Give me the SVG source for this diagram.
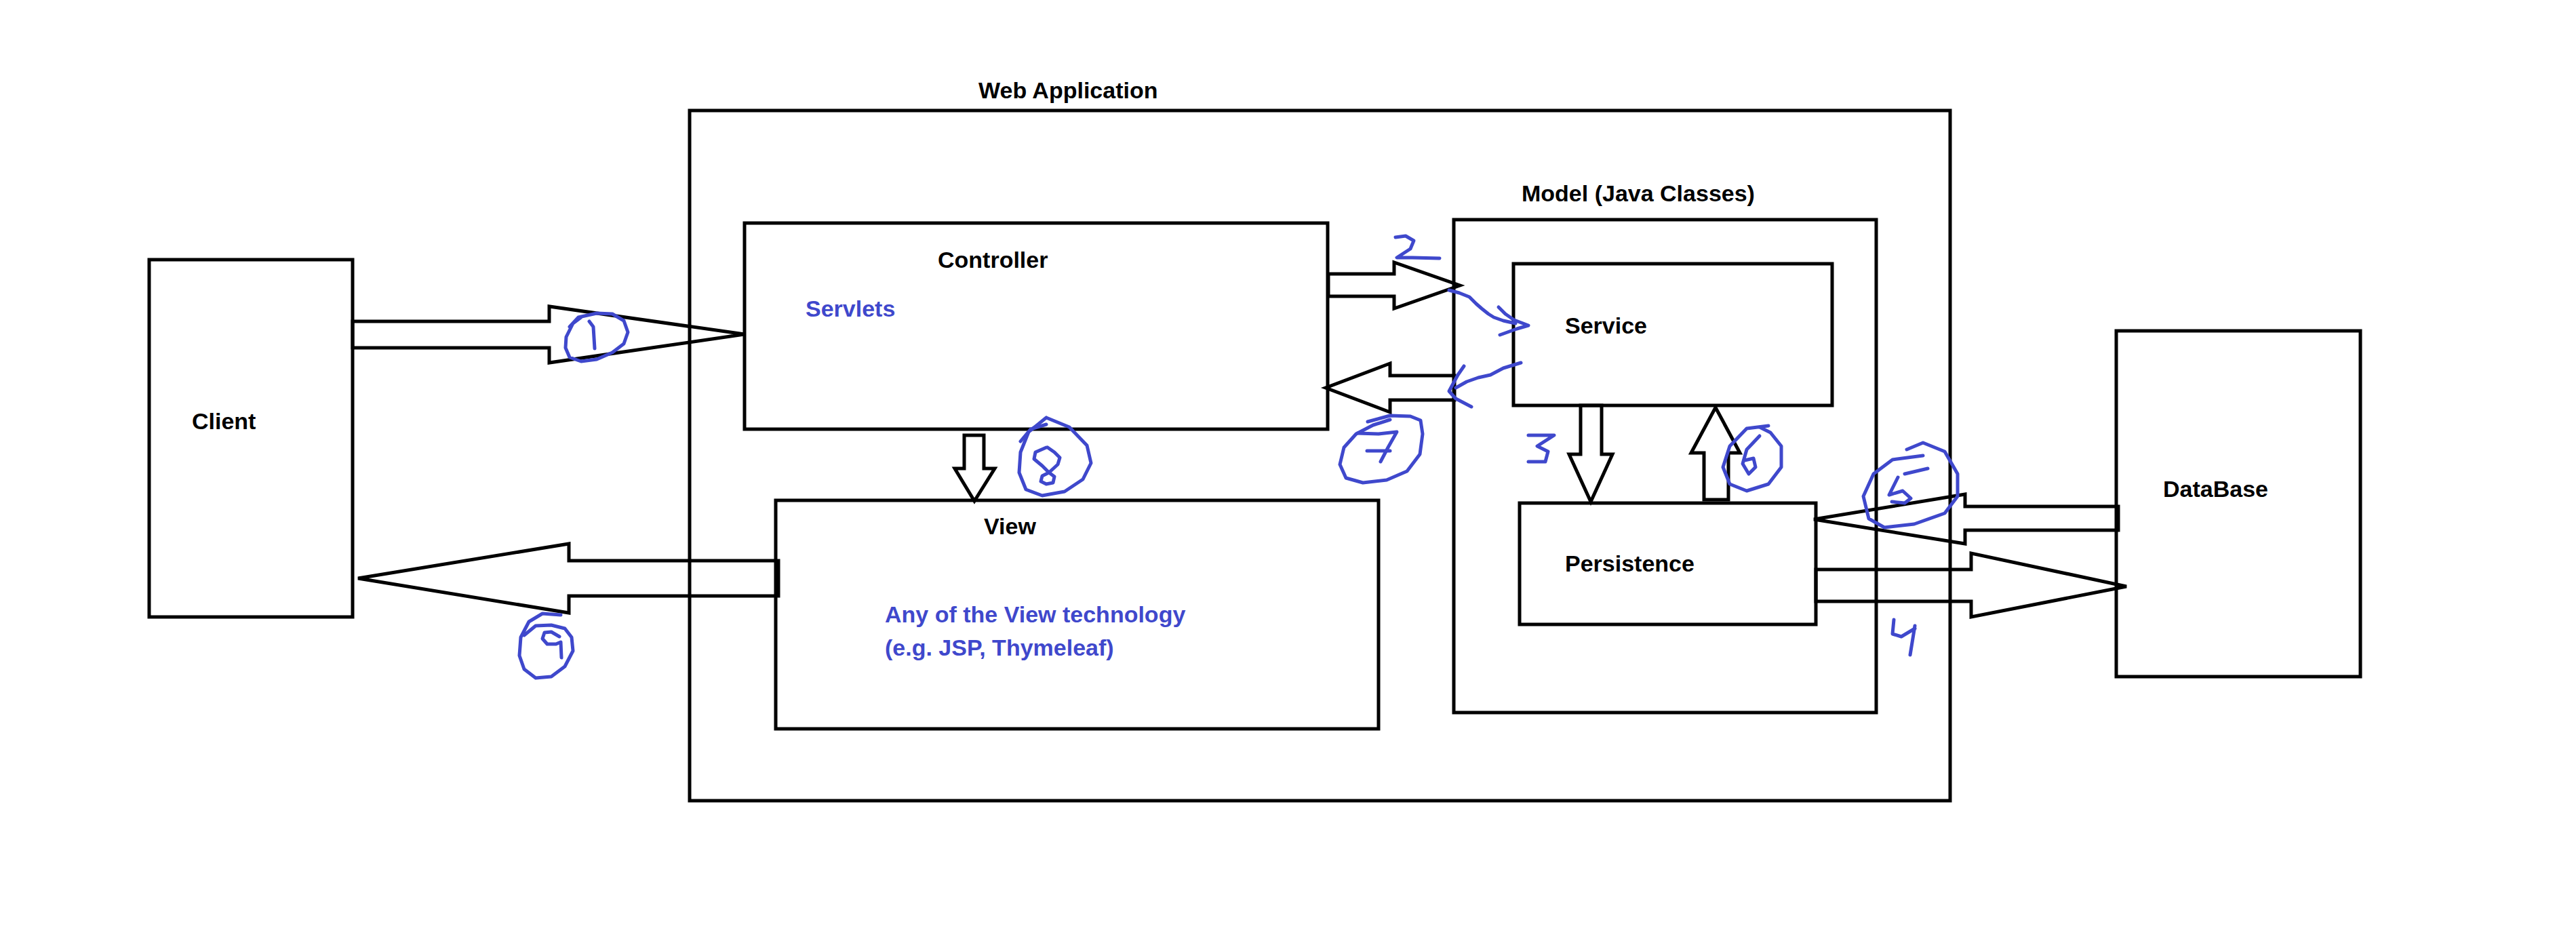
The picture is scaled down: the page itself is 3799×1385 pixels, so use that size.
<svg xmlns="http://www.w3.org/2000/svg" width="3799" height="1385" viewBox="0 0 3799 1385">
<style>
  .box { fill: none; stroke: #000; stroke-width: 5; }
  .lbl { font-family: "Liberation Sans", Arial, sans-serif; font-weight: bold; font-size: 34px; fill: #000; }
  .blue { fill: #3F48CC; }
  .arrow { fill: none; stroke: #000; stroke-width: 5; stroke-linejoin: miter; }
  .ink { fill: none; stroke: #3F48CC; stroke-width: 5; stroke-linecap: round; stroke-linejoin: round; }
</style>
<rect x="0" y="0" width="3799" height="1385" fill="#fff"/>

<g id="client">
  <rect class="box" x="220" y="383" width="300" height="527"/>
  <text class="lbl" x="283" y="633">Client</text>
</g>

<g id="webapp">
  <rect class="box" x="1017" y="163" width="1859" height="1018"/>
  <text class="lbl" x="1443" y="145">Web Application</text>
</g>

<g id="controller">
  <rect class="box" x="1098" y="329" width="860" height="304"/>
  <text class="lbl" x="1383" y="395">Controller</text>
  <text class="lbl blue" x="1188" y="467">Servlets</text>
</g>

<g id="view">
  <rect class="box" x="1144" y="738" width="889" height="337"/>
  <text class="lbl" x="1451" y="788">View</text>
  <text class="lbl blue" x="1305" y="918">Any of the View technology</text>
  <text class="lbl blue" x="1305" y="967">(e.g. JSP, Thymeleaf)</text>
</g>

<g id="model">
  <rect class="box" x="2144" y="324" width="623" height="727"/>
  <text class="lbl" x="2244" y="297">Model (Java Classes)</text>
</g>

<g id="service">
  <rect class="box" x="2232" y="389" width="470" height="209"/>
  <text class="lbl" x="2308" y="492">Service</text>
</g>

<g id="persistence">
  <rect class="box" x="2241" y="742" width="437" height="179"/>
  <text class="lbl" x="2308" y="843">Persistence</text>
</g>

<g id="database">
  <rect class="box" x="3121" y="488" width="360" height="510"/>
  <text class="lbl" x="3190" y="733">DataBase</text>
</g>

<g id="connectors">
  <!-- 1: client -> controller -->
  <polygon class="arrow" points="520,474 810,474 810,452 1098,493 810,535 810,513 520,513"/>
  <!-- 2: controller -> model/service -->
  <polygon class="arrow" points="1959,404 2056,404 2056,387 2153,421 2056,455 2056,437 1959,437"/>
  <!-- 3: service -> persistence -->
  <polygon class="arrow" points="2331,598 2362,598 2362,670 2378,670 2346,740 2314,670 2331,670"/>
  <!-- 4: persistence -> database -->
  <polygon class="arrow" points="2678,840 2907,840 2907,816 3136,865 2907,910 2907,887 2678,887"/>
  <!-- 5: database -> persistence -->
  <polygon class="arrow" points="3124,747 2898,747 2898,729 2675,766 2898,802 2898,782 3124,782"/>
  <!-- 6: persistence -> service -->
  <polygon class="arrow" points="2513,737 2549,737 2549,668 2566,668 2530,601 2494,668 2513,668"/>
  <!-- 7: model/service -> controller -->
  <polygon class="arrow" points="2145,554 2050,554 2050,536 1955,572 2050,608 2050,590 2145,590"/>
  <!-- 8: controller -> view -->
  <polygon class="arrow" points="1422,642 1451,642 1451,691 1467,691 1437,739 1408,691 1422,691"/>
  <!-- 9: view -> client -->
  <polygon class="arrow" points="1148,827 839,827 839,802 528,853 839,904 839,879 1148,879"/>
</g>

<g id="annotations">
  <!-- 1 -->
  <path class="ink" d="M840,482 L853,468 L880,462 L903,463 L920,473 L926,490 L920,507 L903,520 L880,530 L857,533 L840,527 L834,513 L835,497 L845,477 L857,468"/>
  <path class="ink" d="M869,474 L875,482 L877,514"/>
  <!-- 2 -->
  <path class="ink" d="M2058,350 L2073,348 L2085,355 L2080,367 L2060,380 L2083,380 L2123,381"/>
  <path class="ink" d="M2137,428 L2152,432 L2167,438 L2177,448 L2185,455 L2195,463 L2203,468 L2217,473 L2235,477"/>
  <path class="ink" d="M2210,453 L2220,463 L2233,472 L2254,480 L2237,485 L2212,494"/>
  <!-- back to controller -->
  <path class="ink" d="M2243,535 L2217,543 L2198,553 L2180,557 L2163,563 L2147,572"/>
  <path class="ink" d="M2159,540 L2150,553 L2137,577 L2147,588 L2170,600"/>
  <!-- 3 -->
  <path class="ink" d="M2254,642 L2292,642 L2267,658 L2283,666 L2279,681 L2254,681"/>
  <!-- 4 -->
  <path class="ink" d="M2793,914 L2791,935 L2804,939 L2824,927"/>
  <path class="ink" d="M2824,923 L2817,966"/>
  <!-- 5 -->
  <path class="ink" d="M2812,663 L2836,653 L2868,666 L2887,699 L2887,732 L2868,757 L2823,773 L2779,778 L2756,765 L2748,732 L2763,699 L2791,678 L2836,672"/>
  <path class="ink" d="M2809,699 L2843,691"/>
  <path class="ink" d="M2799,704 L2786,730 L2806,724 L2818,735 L2809,742 L2790,740"/>
  <!-- 6 -->
  <path class="ink" d="M2608,628 L2576,632 L2551,658 L2541,689 L2551,714 L2576,724 L2608,714 L2627,689 L2627,658 L2611,638 L2595,630"/>
  <path class="ink" d="M2595,643 L2576,663 L2570,684 L2579,699 L2589,689 L2586,676 L2573,679"/>
  <!-- 7 -->
  <path class="ink" d="M2017,622 L2050,613 L2080,614 L2095,620 L2098,640 L2094,670 L2075,695 L2045,708 L2010,712 L1985,705 L1976,685 L1982,660 L2000,640 L2025,627 L2050,619"/>
  <path class="ink" d="M2002,639 L2033,640 L2060,637 L2047,660 L2036,681"/>
  <path class="ink" d="M2016,665 L2050,665"/>
  <!-- 8 -->
  <path class="ink" d="M1543,616 L1577,630 L1603,657 L1609,683 L1597,707 L1570,725 L1537,731 L1513,722 L1503,697 L1505,667 L1517,637 L1543,616"/>
  <path class="ink" d="M1505,651 L1520,633 L1543,626"/>
  <path class="ink" d="M1543,660 L1527,667 L1525,677 L1537,687 L1547,697 L1555,703 L1553,712 L1543,714 L1535,710 L1537,702 L1547,697 L1560,685 L1563,675 L1555,667 L1545,660"/>
  <!-- 9 -->
  <path class="ink" d="M827,907 L800,905 L780,917 L768,940 L766,967 L773,987 L790,1000 L813,998 L833,983 L845,960 L843,940 L833,927 L813,922 L790,923 L773,937"/>
  <path class="ink" d="M825,939 L813,932 L803,933 L800,942 L807,950 L820,950 L827,947 L828,970"/>
</g>
</svg>
